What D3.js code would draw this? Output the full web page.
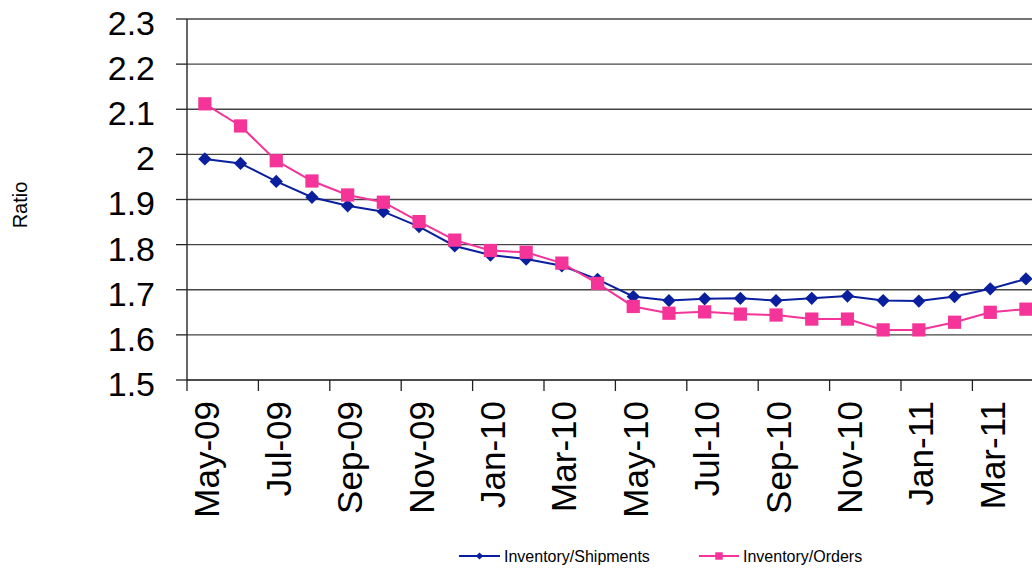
<!DOCTYPE html>
<html>
<head>
<meta charset="utf-8">
<script src="https://cdn.jsdelivr.net/npm/d3@7"></script>
<style>
  html, body { margin: 0; padding: 0; background: #fff; }
  svg { display: block; font-family: "Liberation Sans", Arial, sans-serif; }
</style>
</head>
<body>
<svg id="chart" width="1032" height="570"></svg>
<script>
// Monthly categories, May 2009 through April 2011
const months = [
  "May-09","Jun-09","Jul-09","Aug-09","Sep-09","Oct-09","Nov-09","Dec-09",
  "Jan-10","Feb-10","Mar-10","Apr-10","May-10","Jun-10","Jul-10","Aug-10",
  "Sep-10","Oct-10","Nov-10","Dec-10","Jan-11","Feb-11","Mar-11","Apr-11"
];

// Inventory-to-shipments ratio
const shipments = [
  1.99, 1.98, 1.94, 1.905, 1.886, 1.873, 1.84, 1.797,
  1.777, 1.768, 1.753, 1.723, 1.685, 1.676, 1.680, 1.681,
  1.676, 1.681, 1.686, 1.676, 1.675, 1.685, 1.702, 1.724
];

// Inventory-to-orders ratio
const orders = [
  2.112, 2.063, 1.986, 1.941, 1.910, 1.894, 1.851, 1.810,
  1.787, 1.783, 1.759, 1.714, 1.663, 1.648, 1.651, 1.646,
  1.644, 1.635, 1.635, 1.611, 1.611, 1.628, 1.650, 1.657
];

const yTicks = [1.5, 1.6, 1.7, 1.8, 1.9, 2.0, 2.1, 2.2, 2.3];
const seriesNames = ["Inventory/Shipments", "Inventory/Orders"];

(function () {
  const svg = d3.select("#chart");
  const plotLeft = 187, plotTop = 19, plotBottom = 380, step = 35.7;

  const x = d3.scaleBand().domain(months).range([plotLeft, plotLeft + step * months.length]).padding(0);
  const y = d3.scaleLinear().domain([1.5, 2.3]).range([plotBottom, plotTop]);
  const cx = d => x(d) + x.bandwidth() / 2;

  const blue = "#0a1f9e", pink = "#f43498";

  // horizontal gridlines
  svg.append("g").selectAll("line")
    .data(yTicks.filter(v => v > 1.5))
    .join("line")
    .attr("x1", plotLeft).attr("x2", 1032)
    .attr("y1", d => y(d)).attr("y2", d => y(d))
    .attr("stroke", "#444").attr("stroke-width", 1.3);

  // y axis
  svg.append("line")
    .attr("x1", plotLeft).attr("x2", plotLeft).attr("y1", plotTop).attr("y2", plotBottom)
    .attr("stroke", "#333").attr("stroke-width", 1.5);
  svg.append("g").selectAll("line")
    .data(yTicks)
    .join("line")
    .attr("x1", plotLeft - 11).attr("x2", plotLeft)
    .attr("y1", d => y(d)).attr("y2", d => y(d))
    .attr("stroke", "#222").attr("stroke-width", 1.3);
  svg.append("g").selectAll("text")
    .data(yTicks)
    .join("text")
    .attr("x", 155).attr("y", d => y(d))
    .attr("dy", "0.47em")
    .attr("text-anchor", "end")
    .attr("font-size", 34)
    .attr("fill", "#000")
    .text(d => d3.format("")(d));

  // x axis
  svg.append("line")
    .attr("x1", plotLeft).attr("x2", 1032).attr("y1", plotBottom).attr("y2", plotBottom)
    .attr("stroke", "#111").attr("stroke-width", 1.5);
  const labelled = months.filter((m, i) => i % 2 === 0);
  svg.append("g").selectAll("line")
    .data(labelled)
    .join("line")
    .attr("x1", d => x(d)).attr("x2", d => x(d))
    .attr("y1", plotBottom).attr("y2", plotBottom + 11)
    .attr("stroke", "#222").attr("stroke-width", 1.3);
  svg.append("g").selectAll("text")
    .data(labelled)
    .join("text")
    .attr("transform", d => `translate(${cx(d) + 14.5},${plotBottom + 21}) rotate(-90)`)
    .attr("text-anchor", "end")
    .attr("font-size", 35)
    .attr("fill", "#000")
    .text(d => d);

  // axis title
  svg.append("text")
    .attr("transform", "translate(27,205) rotate(-90)")
    .attr("text-anchor", "middle")
    .attr("font-size", 20)
    .attr("fill", "#000")
    .text("Ratio");

  // series lines and markers
  const line = d3.line().x((d, i) => cx(months[i])).y(d => y(d));
  const diamond = d3.symbol().type(d3.symbolSquare).size(88);
  const square = d3.symbol().type(d3.symbolSquare).size(175);

  svg.append("path").datum(shipments)
    .attr("d", line).attr("fill", "none")
    .attr("stroke", blue).attr("stroke-width", 2);
  svg.append("path").datum(orders)
    .attr("d", line).attr("fill", "none")
    .attr("stroke", pink).attr("stroke-width", 2);

  svg.append("g").selectAll("path")
    .data(shipments)
    .join("path")
    .attr("d", diamond)
    .attr("transform", (d, i) => `translate(${cx(months[i])},${y(d)}) rotate(45)`)
    .attr("fill", blue);
  svg.append("g").selectAll("path")
    .data(orders)
    .join("path")
    .attr("d", square)
    .attr("transform", (d, i) => `translate(${cx(months[i])},${y(d)})`)
    .attr("fill", pink);

  // legend
  const legend = [
    { name: seriesNames[0], color: blue, sym: d3.symbol().type(d3.symbolSquare).size(26), rot: 45, x: 459, w: 41 },
    { name: seriesNames[1], color: pink, sym: d3.symbol().type(d3.symbolSquare).size(56), rot: 0, x: 699, w: 40 }
  ];
  const lg = svg.append("g").selectAll("g").data(legend).join("g")
    .attr("transform", d => `translate(${d.x},556)`);
  lg.append("line").attr("x1", 0).attr("x2", d => d.w).attr("y1", 0).attr("y2", 0)
    .attr("stroke", d => d.color).attr("stroke-width", 2);
  lg.append("path").attr("d", d => d.sym())
    .attr("transform", d => `translate(${d.w / 2},0) rotate(${d.rot})`)
    .attr("fill", d => d.color);
  lg.append("text").attr("x", d => d.w + 4).attr("dy", "0.36em")
    .attr("font-size", 16).attr("fill", "#000")
    .text(d => d.name);
})();
</script>
</body>
</html>
